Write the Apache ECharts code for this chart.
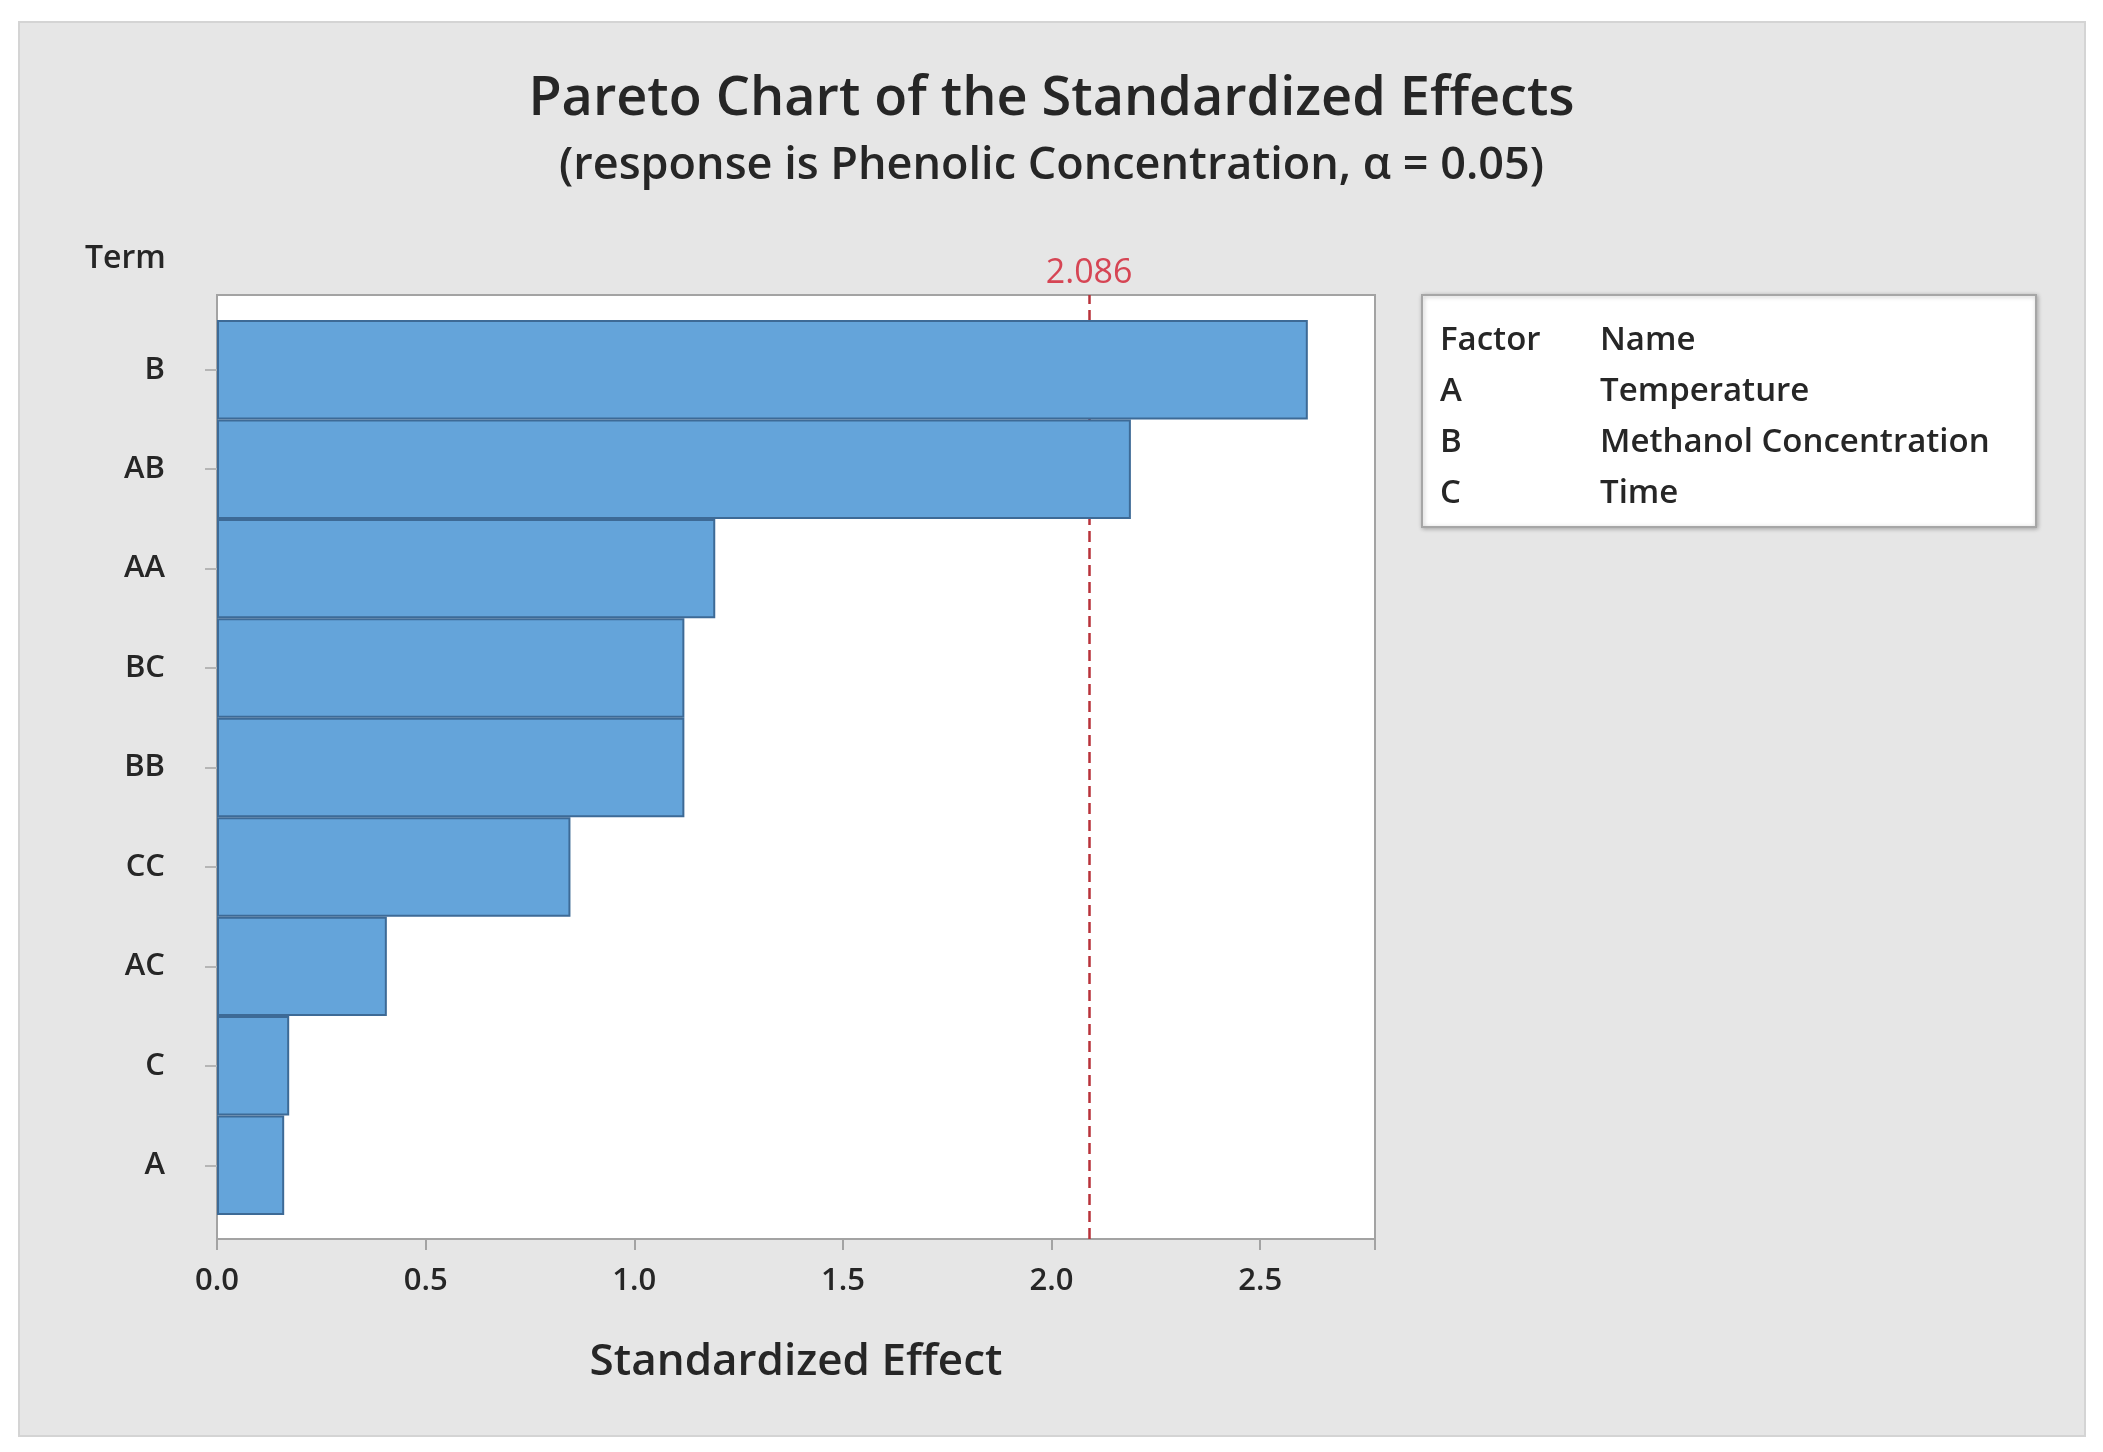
<!DOCTYPE html>
<html>
<head>
<meta charset="utf-8">
<script src="https://cdn.jsdelivr.net/npm/echarts@6/dist/echarts.min.js"></script>
<style>
  html, body { margin: 0; padding: 0; background: #fff; }
  #chart { width: 2103px; height: 1452px; }
</style>
</head>
<body>
<div id="chart"></div>
<script>
// terms sorted by effect size, largest first
const terms = ['B', 'AB', 'AA', 'BC', 'BB', 'CC', 'AC', 'C', 'A']
const effects = [2.614, 2.19, 1.194, 1.12, 1.12, 0.847, 0.407, 0.173, 0.161]
const critical = 2.086
const xTicks = [0, 0.5, 1.0, 1.5, 2.0, 2.5]
const xMax = 2.775

const factors = ['A', 'B', 'C']
const factorNames = ['Temperature', 'Methanol Concentration', 'Time']

const font = '"Open Sans", "Noto Sans", sans-serif'
const textColor = '#262626'

const chart = echarts.init(document.getElementById('chart'))

// legend table on the right
const legendRows = [{ f: 'Factor', n: 'Name' }].concat(
  factors.map((f, i) => ({ f, n: factorNames[i] }))
)
const legendTexts = []
legendRows.forEach((row, i) => {
  const y = 341 + i * 51
  legendTexts.push({
    type: 'text', x: 1440, y, z: 10,
    style: { text: row.f, font: `600 33px ${font}`, fill: textColor, verticalAlign: 'middle' }
  })
  legendTexts.push({
    type: 'text', x: 1600, y, z: 10,
    style: { text: row.n, font: `600 33px ${font}`, fill: textColor, verticalAlign: 'middle' }
  })
})

const option = {
  backgroundColor: '#fff',
  animation: false,
  textStyle: { fontFamily: font },
  title: [
    {
      text: 'Pareto Chart of the Standardized Effects',
      left: 'center', top: 68,
      textStyle: { fontSize: 54, fontWeight: 600, color: textColor, fontFamily: font }
    },
    {
      text: '(response is Phenolic Concentration, α = 0.05)',
      left: 'center', top: 139,
      textStyle: { fontSize: 45, fontWeight: 600, color: textColor, fontFamily: font }
    },
    {
      text: 'Term',
      left: 80, top: 238,
      textStyle: { fontSize: 32, fontWeight: 600, color: textColor, fontFamily: font }
    }
  ],
  graphic: [
    {
      type: 'rect', z: -100, silent: true,
      shape: { x: 19, y: 22, width: 2066, height: 1414 },
      style: { fill: '#e6e6e6', stroke: '#d4d4d4', lineWidth: 2 }
    },
    {
      type: 'rect', z: 5,
      shape: { x: 1422, y: 295, width: 614, height: 232 },
      style: {
        fill: '#fff', stroke: '#a6a6a6', lineWidth: 2,
        shadowBlur: 4, shadowColor: 'rgba(0,0,0,0.25)', shadowOffsetX: 1, shadowOffsetY: 1
      }
    }
  ].concat(legendTexts),
  grid: [
    {
      // plot frame
      left: 217, right: 728, top: 295, bottom: 213,
      show: true, backgroundColor: '#fff', borderColor: '#a3a3a3', borderWidth: 2
    },
    {
      // bars
      left: 217, right: 728, top: 320, bottom: 237
    }
  ],
  xAxis: [
    {
      gridIndex: 0, type: 'value', min: 0, max: xMax, interval: 0.5,
      name: 'Standardized Effect', nameLocation: 'middle', nameGap: 101,
      nameTextStyle: { fontSize: 44, fontWeight: 600, color: textColor, fontFamily: font },
      axisLine: { show: false },
      axisTick: { show: true, length: 11, lineStyle: { color: '#a3a3a3', width: 2 } },
      splitLine: { show: false },
      axisLabel: {
        fontSize: 31, fontWeight: 600, color: textColor, margin: 27,
        formatter: v => (xTicks.includes(v) ? v.toFixed(1) : '')
      }
    },
    {
      gridIndex: 1, type: 'value', min: 0, max: xMax, show: false
    }
  ],
  yAxis: [
    { gridIndex: 0, type: 'value', min: 0, max: 1, show: false },
    {
      gridIndex: 1, type: 'category', data: terms, inverse: true,
      axisLine: { show: false },
      axisTick: { show: true, alignWithLabel: true, length: 12, lineStyle: { color: '#b5b5b5', width: 2 } },
      axisLabel: { fontSize: 31, fontWeight: 600, color: textColor, margin: 52 }
    }
  ],
  series: [
    {
      type: 'scatter', xAxisIndex: 0, yAxisIndex: 0, z: 1,
      data: [], silent: true,
      markLine: {
        silent: true, symbol: 'none',
        lineStyle: { color: '#b8323a', type: [11, 6], width: 2.5 },
        label: {
          show: true, position: 'end', distance: 5,
          formatter: critical.toFixed(3),
          fontSize: 34, color: '#d64554', fontFamily: font
        },
        data: [{ xAxis: critical }]
      }
    },
    {
      type: 'bar', xAxisIndex: 1, yAxisIndex: 1, zlevel: 1,
      data: effects,
      barCategoryGap: '0%',
      itemStyle: { color: '#64a4da', borderColor: '#3d6a96', borderWidth: 2 }
    }
  ]
}

chart.setOption(option)
</script>
</body>
</html>
